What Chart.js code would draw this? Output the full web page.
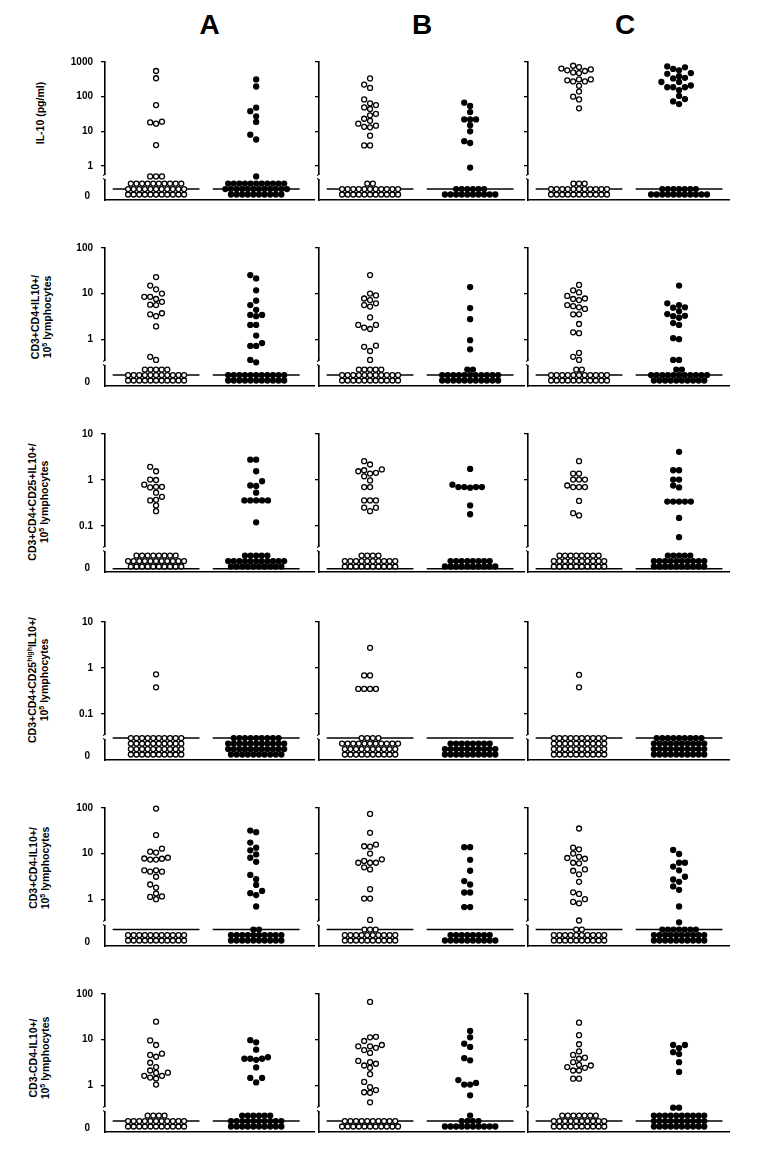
<!DOCTYPE html>
<html>
<head>
<meta charset="utf-8">
<script src="https://cdn.jsdelivr.net/npm/chart.js@4.4.1/dist/chart.umd.min.js"></script>
<style>
  body { margin: 0; background: #fff; width: 768px; height: 1156px; position: relative; overflow: hidden;
         font-family: Arial, "Liberation Sans", sans-serif; }
  canvas { position: absolute; }
  .col { position: absolute; top: 25px; transform: translate(-50%, -50%); font: bold 28px Arial, "Liberation Sans", sans-serif; }
  .ylab { position: absolute; transform: translate(-50%, -50%) rotate(-90deg); white-space: nowrap; text-align: center;
          font: bold 10.5px Arial, "Liberation Sans", sans-serif; line-height: 12px; }
  .ylab sup { font-size: 7px; line-height: 0; }
</style>
</head>
<body>
<script>
// ---- data ----
const columns = ['A', 'B', 'C'];
const rowTitles = [
  ['IL-10 (pg/ml)'],
  ['CD3+CD4+IL10+/', '10<sup>5</sup> lymphocytes'],
  ['CD3+CD4+CD25+IL10+/', '10<sup>5</sup> lymphocytes'],
  ['CD3+CD4+CD25<sup>high</sup>IL10+/', '10<sup>5</sup> lymphocytes'],
  ['CD3+CD4-IL10+/', '10<sup>5</sup> lymphocytes'],
  ['CD3-CD4-IL10+/', '10<sup>5</sup> lymphocytes']
];
const rowTicks = [[1, 10, 100, 1000], [1, 10, 100], [0.1, 1, 10], [0.1, 1, 10], [1, 10, 100], [1, 10, 100]];
const rowRange = [[0.48, 1000], [0.316, 100], [0.0316, 10], [0.0316, 10], [0.316, 100], [0.316, 100]];

// IL-10 (pg/ml)
const il10Open = [
  [550, 340, 57, 19, 16.6, 18, 4, 0.5, 0.5, 0.5],
  [335, 223, 178, 83, 64, 57, 44, 49, 32, 29, 23, 20, 16.6, 14.5, 13, 13.5, 7.5, 3.9, 3.9],
  [715, 610, 550, 575, 645, 780, 480, 500, 315, 295, 275, 315, 275, 205, 140, 100, 83, 46]
];
const il10Filled = [
  [315, 196, 48, 38, 27, 18.6, 8, 5.8, 0.5],
  [67, 54, 36, 22, 22, 22, 15, 10, 5.2, 4.6, 0.9],
  [457, 630, 745, 575, 700, 480, 335, 350, 390, 265, 265, 187, 187, 187, 210, 155, 105, 85, 73, 61]
];
const il10OpenZeros = [[11, 11, 10], [11, 11, 2], [11, 11, 3]];
const il10FilledZeros = [[10, 12, 11], [10, 6], [11, 7]];
const il10Medians = [[2, 2], [2, 2], [2, 2]];

// CD3+CD4+IL10+
const cd4Open = [
  [23, 15, 12.4, 10, 8.5, 7.6, 8.5, 6.6, 5.7, 5.6, 3.7, 3.2, 3.5, 1.9, 0.41, 0.35],
  [25.5, 10, 9.1, 7.8, 7.2, 6.1, 5.6, 5.2, 3.0, 2.05, 1.67, 1.8, 2.05, 0.68, 0.72, 0.55, 0.35],
  [15.5, 11.8, 10.6, 8.9, 7.8, 7.6, 7.2, 5.6, 5.3, 4.6, 5.0, 3.5, 3.5, 2.15, 1.35, 1.41, 0.5, 0.41, 0.35]
];
const cd4Filled = [
  [25.5, 21.5, 11.8, 7, 5.6, 4.4, 3.4, 3.4, 3.2, 2.05, 2.05, 1.2, 0.82, 0.71, 0.71, 0.35, 0.31],
  [13.9, 4.8, 2.75, 0.95, 0.6],
  [15, 5.6, 4.9, 5.0, 6.1, 4.1, 3.55, 3.2, 2.95, 3.25, 2.05, 2.25, 1.05, 1.0, 0.35, 0.35]
];
const cd4OpenZeros = [[11, 11, 5], [11, 11, 5], [11, 11, 2]];
const cd4FilledZeros = [[11, 11], [11, 11, 2], [10, 11, 2]];
const cd4Medians = [[2, 2], [2, 2], [2, 2]];

// CD3+CD4+CD25+IL10+
const cd25Open = [
  [1.93, 1.55, 1.02, 1.0, 0.79, 0.71, 0.71, 0.69, 0.53, 0.43, 0.36, 0.37, 0.28, 0.21],
  [2.57, 2.17, 1.7, 1.55, 1.38, 1.63, 1.43, 1.2, 0.98, 0.70, 0.70, 0.36, 0.36, 0.36, 0.25, 0.25, 0.21],
  [2.57, 1.38, 1.38, 1.02, 1.02, 1.02, 0.70, 0.70, 0.70, 0.76, 0.35, 0.17, 0.19]
];
const cd25Filled = [
  [2.77, 2.77, 1.55, 0.94, 0.76, 0.74, 0.53, 0.36, 0.36, 0.36, 0.36, 0.36, 0.12],
  [1.74, 0.79, 0.70, 0.70, 0.68, 0.70, 0.70, 0.28, 0.18],
  [4.1, 1.63, 1.63, 1.02, 1.02, 0.76, 0.69, 0.34, 0.34, 0.34, 0.34, 0.34, 0.15, 0.057]
];
const cd25OpenZeros = [[10, 11, 8], [10, 10, 4], [10, 10, 8]];
const cd25FilledZeros = [[10, 11, 5], [10, 8], [10, 10, 5]];
const cd25Medians = [[0.6, 0.6], [0.6, 0.6], [0.6, 0.6]];

// CD3+CD4+CD25high IL10+
const cd25hiOpen = [[0.73, 0.38], [2.75, 0.69, 0.69, 0.35, 0.35, 0.35, 0.35], [0.71, 0.38]];
const cd25hiFilled = [[], [], []];
const cd25hiOpenZeros = [[10, 10, 10, 10], [10, 10, 11, 4], [10, 10, 10, 10]];
const cd25hiFilledZeros = [[10, 11, 11, 9], [10, 10, 8], [10, 10, 10, 9]];
const cd25hiMedians = [[4, 4], [4, 4], [4, 4]];

// CD3+CD4-IL10+
const cd4negOpen = [
  [97, 25.5, 12.8, 11, 10.5, 8.1, 7.4, 7.7, 7.4, 7.8, 4.3, 4, 3.1, 4, 4.3, 1.8, 2.1, 1.33, 1.12, 1.0, 1.15],
  [74, 28.5, 15.8, 14.2, 14.5, 10, 7.5, 6.9, 6.3, 6.3, 6.3, 5.0, 4.5, 1.66, 1.03, 1.03, 0.35],
  [35.5, 13.5, 12.4, 10, 8.5, 7.7, 8, 6.3, 6.1, 4.5, 4.2, 3.5, 2.4, 1.3, 1.41, 1.0, 0.87, 0.81, 0.34]
];
const cd4negFilled = [
  [32, 29.5, 17.4, 13.5, 11.8, 9.6, 8.1, 6.6, 3.4, 2.75, 2.05, 1.52, 1.35, 1.23, 0.69],
  [13.8, 13.8, 7.3, 4.2, 2.5, 2.1, 1.4, 1.4, 0.67, 0.67],
  [12, 9.8, 6.3, 6.3, 5.2, 4.3, 3.1, 2.7, 2.4, 1.9, 1.6, 0.69, 0.31]
];
const cd4negOpenZeros = [[11, 11], [10, 10, 3], [10, 10, 2]];
const cd4negFilledZeros = [[10, 10, 2], [10, 8], [10, 10, 7]];
const cd4negMedians = [[3, 3], [3, 3], [3, 3]];

// CD3-CD4-IL10+
const dnOpen = [
  [24.7, 9.6, 7.6, 4.9, 4.6, 4.2, 3.1, 2.5, 2.1, 1.86, 1.6, 1.6, 1.88, 1.47, 1.4, 1.03],
  [67, 11.5, 11.2, 9.3, 7.1, 7.1, 7.6, 6.6, 5.9, 5.1, 3.4, 3.2, 2.7, 2.95, 2.4, 1.74, 1.18, 0.78, 0.68, 0.7, 0.91, 0.42],
  [23.5, 12.5, 7.9, 5.5, 4.6, 4.0, 3.8, 3.2, 2.7, 2.8, 2.5, 2.4, 2.1, 2.1, 1.39, 1.39]
];
const dnFilled = [
  [9.7, 8.7, 6.0, 4.1, 3.8, 3.6, 3.8, 3.8, 2.45, 1.44, 1.44, 1.15],
  [15.5, 11.2, 8.1, 6.9, 3.9, 3.5, 1.29, 1.03, 1.03, 1.12, 0.6],
  [7.6, 7.6, 6.5, 5.3, 4.8, 3.2, 1.95, 0.32, 0.32]
];
const dnOpenZeros = [[11, 11, 4], [11, 10], [10, 10, 7]];
const dnFilledZeros = [[10, 10, 6], [10, 4, 1], [10, 10, 10]];
const dnMedians = [[2, 2], [2, 2], [2, 2]];

const rows = [
  [il10Open, il10Filled, il10OpenZeros, il10FilledZeros, il10Medians],
  [cd4Open, cd4Filled, cd4OpenZeros, cd4FilledZeros, cd4Medians],
  [cd25Open, cd25Filled, cd25OpenZeros, cd25FilledZeros, cd25Medians],
  [cd25hiOpen, cd25hiFilled, cd25hiOpenZeros, cd25hiFilledZeros, cd25hiMedians],
  [cd4negOpen, cd4negFilled, cd4negOpenZeros, cd4negFilledZeros, cd4negMedians],
  [dnOpen, dnFilled, dnOpenZeros, dnFilledZeros, dnMedians]
];

// ---- layout ----
const rowTop = [62, 248, 434, 622, 808, 994];
const rowLabelPos = [[40, 113], [41, 317], [38, 502], [38, 680], [39, 868], [39, 1058]];
const colAxisX = [105, 319, 528];
const colRight = [318, 528, 733];
const colCenter = [209.5, 422, 625];
const HI_H = 115, LO_H = 23, PAD_T = 24, PAD_B = 22;
const UNIT = 52;                 // px per x unit
const PITCH = 6 / UNIT;          // one dot slot
const OPEN_X = 1, FILLED_X = 2.96, HALF_LINE = 0.85;

// column scatter: spread close values over side slots
function swarm(values, center, pxPerDec) {
  const placed = [];
  return values.slice().sort((a, b) => a - b).map(v => {
    const py = Math.log10(v) * pxPerDec;
    for (let k = 0; ; k++) {
      const slot = k === 0 ? 0 : (k % 2 ? -(k + 1) / 2 : k / 2);
      if (!placed.some(p => p.slot === slot && Math.abs(p.py - py) < 5.5)) {
        placed.push({ slot, py });
        return { x: center + slot * PITCH, y: v };
      }
    }
  });
}

// zero values stacked in rows below the break
function zeroRows(counts, center) {
  const pts = [];
  counts.forEach((n, r) => {
    for (let i = 0; i < n; i++) pts.push({ x: center + (i - (n - 1) / 2) * PITCH * 0.95, y: r + 1 });
  });
  return pts;
}

const breakMark = {
  id: 'breakMark',
  afterDraw(chart) {
    const { ctx } = chart;
    const x = chart.scales.hi.right, y = chart.scales.hi.bottom;
    ctx.save();
    ctx.fillStyle = '#fff';
    ctx.fillRect(x - 3, y - 2, 6, 4);
    ctx.strokeStyle = '#000';
    ctx.lineWidth = 1.2;
    ctx.beginPath();
    ctx.moveTo(x, y - 4); ctx.quadraticCurveTo(x, y - 2, x - 2, y - 1.5);
    ctx.moveTo(x, y + 4); ctx.quadraticCurveTo(x, y + 2, x - 2, y + 1.5);
    ctx.stroke();
    ctx.restore();
  }
};

const tickFont = { family: 'Arial, "Liberation Sans", sans-serif', size: 10, weight: 'bold' };

function dots(data, fill, axis) {
  return {
    data, yAxisID: axis, clip: false,
    pointRadius: 2.5, pointHoverRadius: 2.5, pointBorderWidth: 1.3,
    pointBackgroundColor: fill, pointBorderColor: '#000'
  };
}
function medianLine(center, level) {
  return {
    data: [{ x: center - HALF_LINE, y: level }, { x: center + HALF_LINE, y: level }],
    yAxisID: 'lo', showLine: true, pointRadius: 0, borderColor: '#000', borderWidth: 1.5, clip: false
  };
}

function makePanel(r, c) {
  const [openV, filledV, openZ, filledZ, med] = rows[r];
  const [mn, mx] = rowRange[r];
  const pxPerDec = HI_H / Math.log10(mx / mn);
  const axisW = c === 0 ? 50 : 10;
  const left = colAxisX[c] - axisW;
  const width = colRight[c] - left;
  const canvas = document.createElement('canvas');
  canvas.width = width;
  canvas.height = PAD_T + HI_H + LO_H + 2 + PAD_B;
  canvas.style.left = left + 'px';
  canvas.style.top = (rowTop[r] - PAD_T) + 'px';
  document.body.appendChild(canvas);

  const border = { display: true, color: '#000', width: 1.6 };
  new Chart(canvas, {
    type: 'scatter',
    data: {
      datasets: [
        dots(swarm(openV[c], OPEN_X, pxPerDec), '#fff', 'hi'),
        dots(zeroRows(openZ[c], OPEN_X), '#fff', 'lo'),
        dots(swarm(filledV[c], FILLED_X, pxPerDec), '#000', 'hi'),
        dots(zeroRows(filledZ[c], FILLED_X), '#000', 'lo'),
        medianLine(OPEN_X, med[c][0]),
        medianLine(FILLED_X, med[c][1])
      ]
    },
    options: {
      responsive: false, animation: false, events: [],
      layout: { padding: { top: PAD_T, bottom: PAD_B, left: 0, right: 0 } },
      plugins: { legend: { display: false }, tooltip: { enabled: false } },
      scales: {
        x: {
          type: 'linear', min: 0, max: (colRight[c] - colAxisX[c]) / UNIT,
          ticks: { display: false }, grid: { display: false }, border,
          afterFit: s => { s.height = 2; }
        },
        lo: {
          type: 'linear', position: 'left', stack: 'y', stackWeight: LO_H, min: 0, max: 4.2,
          grid: { display: false }, border,
          ticks: { display: c === 0, color: '#000', font: tickFont, padding: 7, callback: () => '0' },
          afterBuildTicks: s => { s.ticks = [{ value: 0.6 }]; },
          afterFit: s => { s.width = axisW; }
        },
        hi: {
          type: 'logarithmic', position: 'left', stack: 'y', stackWeight: HI_H, min: mn, max: mx,
          grid: { display: true, drawOnChartArea: false, drawTicks: true, tickLength: 4, color: '#000', lineWidth: 1.3 },
          border,
          ticks: { display: c === 0, color: '#000', font: tickFont, padding: 8, callback: v => String(v) },
          afterBuildTicks: s => { s.ticks = rowTicks[r].map(v => ({ value: v })); },
          afterFit: s => { s.width = axisW; }
        }
      }
    },
    plugins: [breakMark]
  });
}

columns.forEach((name, c) => {
  const d = document.createElement('div');
  d.className = 'col';
  d.style.left = colCenter[c] + 'px';
  d.textContent = name;
  document.body.appendChild(d);
});
rowTitles.forEach((lines, r) => {
  const d = document.createElement('div');
  d.className = 'ylab';
  d.style.left = rowLabelPos[r][0] + 'px';
  d.style.top = rowLabelPos[r][1] + 'px';
  d.innerHTML = lines.join('<br>');
  document.body.appendChild(d);
  for (let c = 0; c < 3; c++) makePanel(r, c);
});
</script>
</body>
</html>
